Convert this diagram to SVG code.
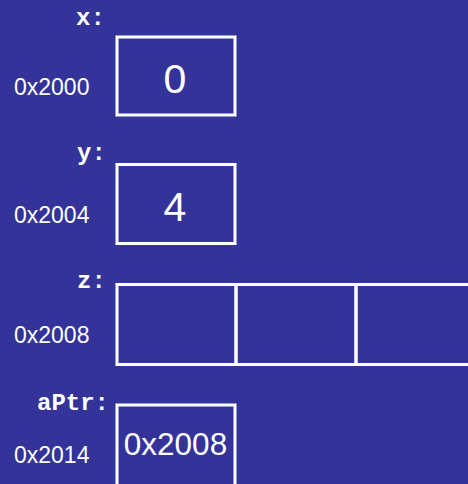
<svg xmlns="http://www.w3.org/2000/svg" width="468" height="484" viewBox="0 0 468 484">
<style>
.bg{fill:#333399}
.cell{fill:none;stroke:#ffffff;stroke-width:3}
.name{font-family:"Liberation Mono","Courier New",monospace;font-weight:bold;font-size:24px;fill:#ffffff}
.addr{font-family:"Liberation Sans",Arial,sans-serif;font-size:23px;fill:#ffffff}
.val{font-family:"Liberation Sans",Arial,sans-serif;fill:#ffffff;text-anchor:middle}
</style>
<rect class="bg" x="0" y="0" width="468" height="484"/>
<g id="node-x">
<text class="name" x="76" y="25">x:</text>
<text class="addr" x="14" y="95">0x2000</text>
<rect class="cell" x="117" y="37" width="118" height="78"/>
<text class="val" x="175" y="93" font-size="41">0</text>
</g>
<g id="node-y">
<text class="name" x="77" y="160">y:</text>
<text class="addr" x="14" y="223">0x2004</text>
<rect class="cell" x="117" y="164.5" width="118" height="79"/>
<text class="val" x="175" y="221" font-size="41">4</text>
</g>
<g id="node-z">
<text class="name" x="77" y="288">z:</text>
<text class="addr" x="14" y="343">0x2008</text>
<rect class="cell" x="117" y="284.5" width="119" height="80"/>
<rect class="cell" x="236" y="284.5" width="120" height="80"/>
<rect class="cell" x="356" y="284.5" width="120" height="80"/>
</g>
<g id="node-aPtr">
<text class="name" x="37" y="410">aPtr:</text>
<text class="addr" x="14" y="463">0x2014</text>
<rect class="cell" x="117" y="405" width="118" height="90"/>
<text class="val" x="175.5" y="455" font-size="31.5">0x2008</text>
</g>
<g id="connectors"></g>
</svg>
